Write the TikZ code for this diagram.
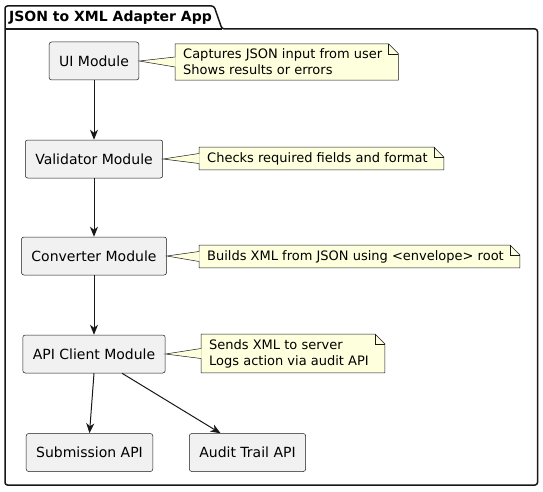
\documentclass[tikz,border=0pt]{standalone}
\usepackage{fontspec}
\setmainfont{DejaVu Sans}
\usetikzlibrary{arrows.meta,backgrounds}

\definecolor{compfill}{HTML}{F1F1F1}
\definecolor{notefill}{HTML}{FEFFDD}
\definecolor{edge}{HTML}{181818}

\begin{document}
\begin{tikzpicture}[x=1pt, y=-1pt,
  comp/.style={draw=edge, fill=compfill, line width=0.5pt, rounded corners=2.5pt,
    minimum height=38pt, inner xsep=10pt, font=\fontsize{14}{16}\selectfont},
  note/.style={anchor=west, inner xsep=8pt, inner ysep=5pt, align=left,
    font=\fontsize{13}{16}\selectfont},
  noteline/.style={draw=edge, fill=notefill, line width=0.5pt},
  flow/.style={draw=edge, line width=1pt, -{Stealth[length=10pt, width=8pt, inset=3pt]}}]
\useasboundingbox (0,0) rectangle (543,492);

% package
\draw[edge, line width=1.5pt, rounded corners=2.5pt] (5,485) -- (5,6) -- (214,6) -- (222,29) -- (537.5,29) -- (537.5,485) -- cycle;
\draw[edge, line width=1.5pt] (5,29) -- (222,29);
\node[anchor=west, inner sep=0pt, font=\fontsize{14}{16}\selectfont\bfseries] (title) at (9,17.5) {JSON to XML Adapter App};

% modules
\node[comp] (ui) at (94,61) {UI Module};
\node[comp] (val) at (94,159) {Validator Module};
\node[comp] (conv) at (94,256) {Converter Module};
\node[comp] (api) at (94,354) {API Client Module};
\node[comp] (sub) at (89.5,452.5) {Submission API};
\node[comp] (audit) at (247.5,452.5) {Audit Trail API};

% notes
\node[note] (n1) at (175,62) {Captures JSON input from user\\Shows results or errors};
\node[note] (n2) at (199,158.5) {Checks required fields and format};
\node[note] (n3) at (199,256.5) {Builds XML from JSON using <envelope> root};
\node[note] (n4) at (201,353.5) {Sends XML to server\\Logs action via audit API};

\begin{scope}[on background layer]
\fill[white] (0,0) rectangle (543,492);
\foreach \n in {n1,n2,n3,n4} {
  \path[noteline] (\n.north west) -- ([xshift=-2pt]\n.north east) -- ([xshift=8pt, yshift=-10pt]\n.north east)
    -- ([xshift=8pt]\n.south east) -- (\n.south west) -- cycle;
  \draw[edge, line width=0.5pt] ([xshift=-2pt]\n.north east) -- ([xshift=-2pt, yshift=-10pt]\n.north east)
    -- ([xshift=8pt, yshift=-10pt]\n.north east);
}
\end{scope}

% note links
\foreach \c/\n in {ui/n1, val/n2, conv/n3, api/n4} {
  \fill[notefill] (\c.east) -- ([xshift=0.6pt, yshift=5pt]\n.west) -- ([xshift=0.6pt, yshift=-5pt]\n.west) -- cycle;
  \draw[edge, line width=0.5pt] ([yshift=5pt]\n.west) -- (\c.east) -- ([yshift=-5pt]\n.west);
}

% flow
\draw[flow] (ui) -- (val);
\draw[flow] (val) -- (conv);
\draw[flow] (conv) -- (api);
\draw[flow] (api.south) -- (sub.north);
\draw[flow] ([xshift=28pt]api.south) -- ([xshift=-27pt]audit.north);
\end{tikzpicture}
\end{document}
